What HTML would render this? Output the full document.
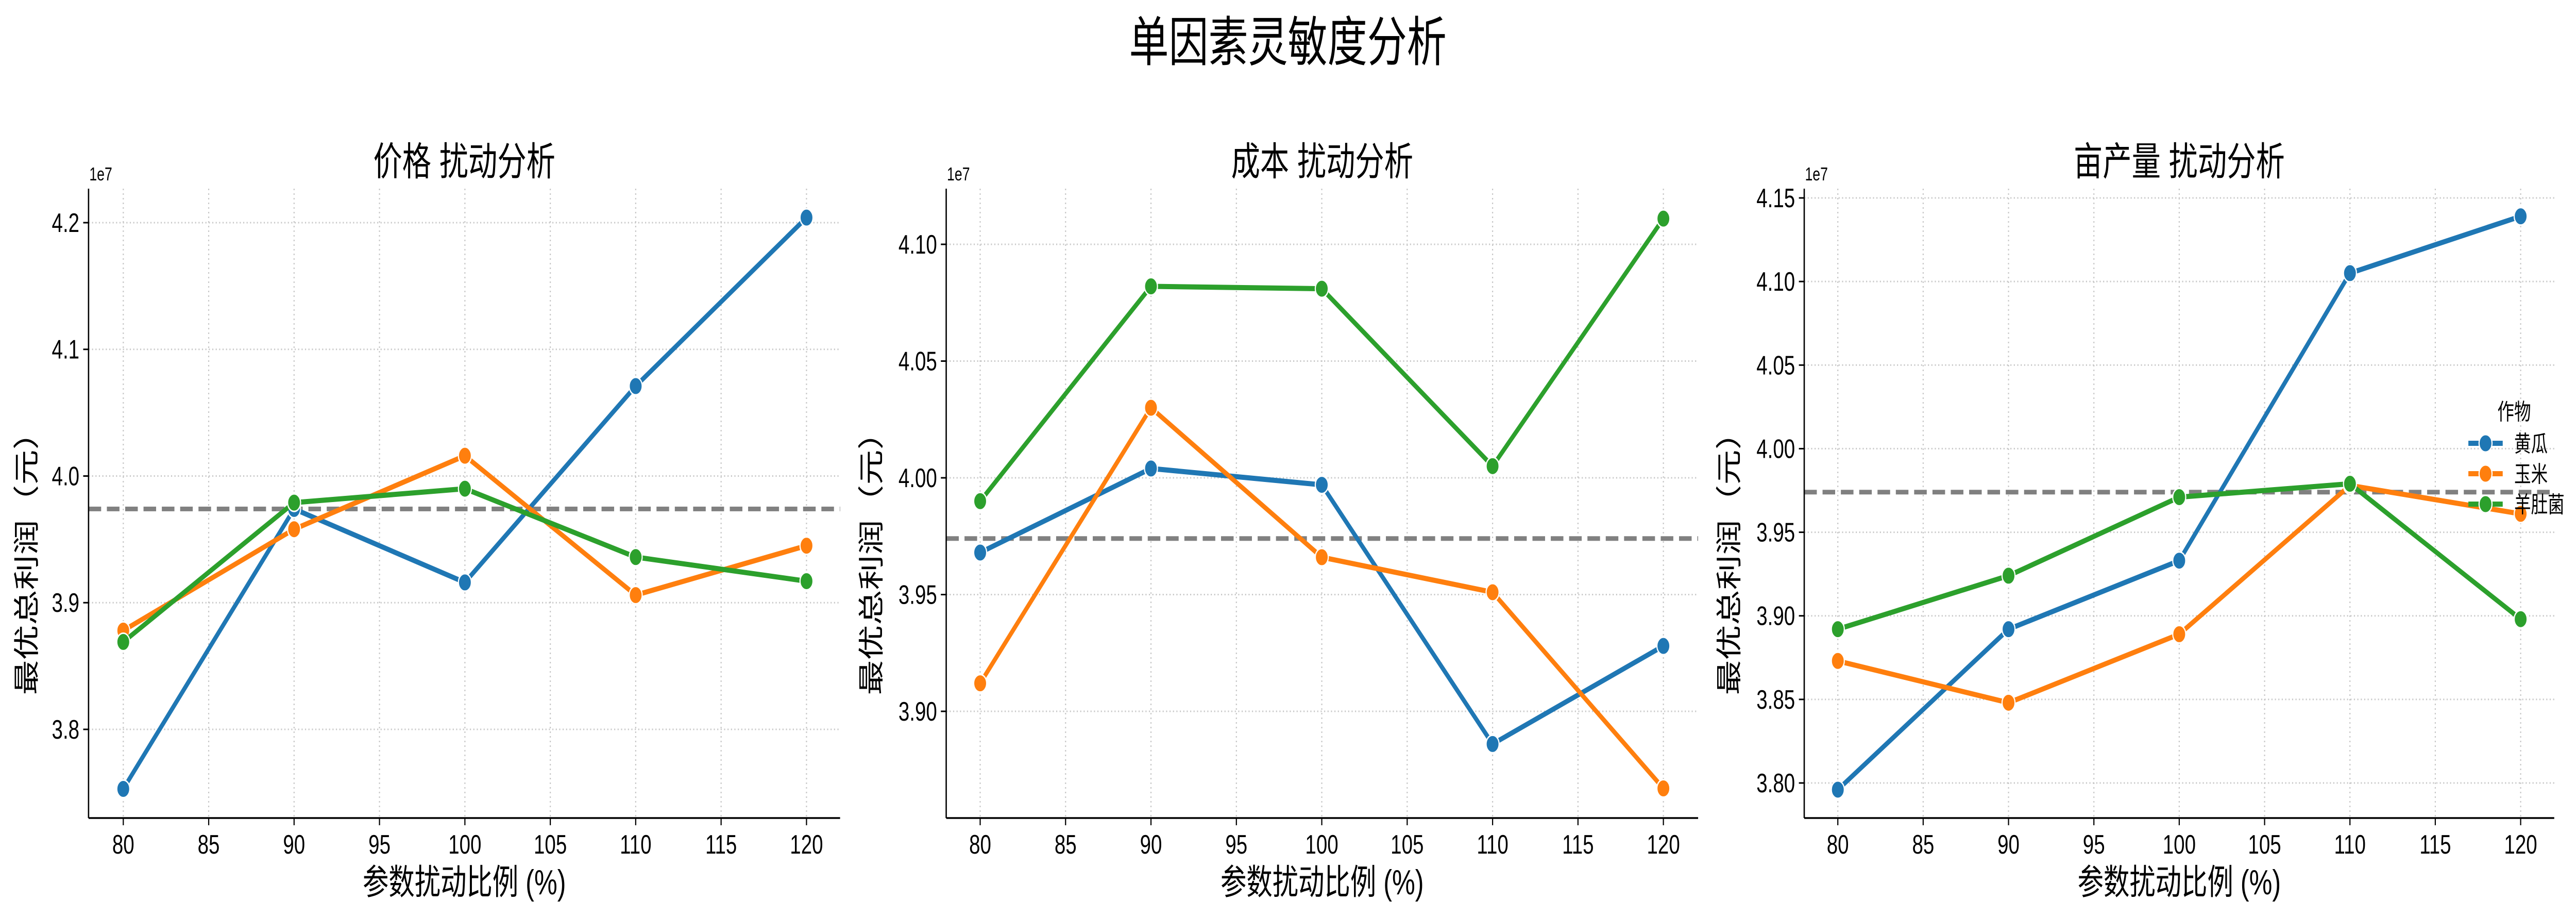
<!DOCTYPE html>
<html><head><meta charset="utf-8"><meta name="viewport" content="width=6749"><style>
html,body{margin:0;padding:0;background:#fff;width:100%;height:100%;overflow:hidden;}
svg{display:block;width:100vw;height:100vh;font-family:"Liberation Sans","Noto Sans CJK SC",sans-serif;}
</style></head><body>
<svg id="fig" viewBox="0 0 6749 1779" preserveAspectRatio="none" xmlns="http://www.w3.org/2000/svg">
<rect width="6749" height="1779" fill="#fff"/>
<text x="3374" y="118" font-size="104" text-anchor="middle" fill="#000">单因素灵敏度分析</text>
</svg>
<script>
const xCats = [80, 90, 100, 110, 120];
const xTicks = [80, 85, 90, 95, 100, 105, 110, 115, 120];
const crops = ["黄瓜", "玉米", "羊肚菌"];
const colors = ["#1f77b4", "#ff7f0e", "#2ca02c"];
const titles = ["价格 扰动分析", "成本 扰动分析", "亩产量 扰动分析"];
const baseline = 39.74;
// values in units of 1e6 (axis shows 1e7)
const priceCucumber = [37.53, 39.74, 39.16, 40.71, 42.04];
const priceCorn = [38.78, 39.58, 40.16, 39.06, 39.45];
const priceMorel = [38.69, 39.79, 39.90, 39.36, 39.17];
const costCucumber = [39.68, 40.04, 39.97, 38.86, 39.28];
const costCorn = [39.12, 40.30, 39.66, 39.51, 38.67];
const costMorel = [39.90, 40.82, 40.81, 40.05, 41.11];
const yieldCucumber = [37.96, 38.92, 39.33, 41.05, 41.39];
const yieldCorn = [38.73, 38.48, 38.89, 39.78, 39.61];
const yieldMorel = [38.92, 39.24, 39.71, 39.79, 38.98];
const yTicks1 = [3.8, 3.9, 4.0, 4.1, 4.2];
const yTickLabels1 = ["3.8", "3.9", "4.0", "4.1", "4.2"];
const yTicks2 = [3.90, 3.95, 4.00, 4.05, 4.10];
const yTickLabels2 = ["3.90", "3.95", "4.00", "4.05", "4.10"];
const yTicks3 = [3.80, 3.85, 3.90, 3.95, 4.00, 4.05, 4.10, 4.15];
const yTickLabels3 = ["3.80", "3.85", "3.90", "3.95", "4.00", "4.05", "4.10", "4.15"];
const series = [[priceCucumber, priceCorn, priceMorel],[costCucumber, costCorn, costMorel],[yieldCucumber, yieldCorn, yieldMorel]];
const yTickSets = [yTicks1, yTicks2, yTicks3];
const yLabelSets = [yTickLabels1, yTickLabels2, yTickLabels3];

const NS = "http://www.w3.org/2000/svg";
const svg = document.getElementById('fig');
function mk(tag, attrs, parent){const e=document.createElementNS(NS,tag);for(const k in attrs)e.setAttribute(k,attrs[k]);(parent||svg).appendChild(e);return e;}

const panels = [
 {L:232,R:2201,T:366,B:1587,x0:323,x1:2113,v0:4.2,p0:432,v1:3.8,p1:1415,ylx:70,e7:234},
 {L:2479,R:4449,T:366,B:1587,x0:2568,x1:4358,v0:4.10,p0:474,v1:3.90,p1:1380,ylx:2283,e7:2481},
 {L:4727,R:6692,T:366,B:1587,x0:4815,x1:6604,v0:4.15,p0:384,v1:3.80,p1:1519,ylx:4530,e7:4729}
];

panels.forEach((P,pi)=>{
  const g = mk('g',{});
  
  
  const xs = v => P.x0 + (v-80)/40*(P.x1-P.x0);
  const ys = v => P.p0 + (v-P.v0)/(P.v1-P.v0)*(P.p1-P.p0);
  xTicks.forEach(t=>{
    const l=mk('line',{x1:xs(t),x2:xs(t),y1:P.T,y2:P.B,stroke:'#c8c8c8','stroke-width':3,'stroke-dasharray':'3 6'},g);
    
    
  });
  yTickSets[pi].forEach(t=>{
    const l=mk('line',{x1:P.L,x2:P.R,y1:ys(t),y2:ys(t),stroke:'#c8c8c8','stroke-width':3,'stroke-dasharray':'3 6'},g);
    
    
  });
  const bl=mk('line',{x1:P.L,x2:P.R,y1:ys(baseline/10),y2:ys(baseline/10),stroke:'#808080','stroke-width':9,'stroke-dasharray':'33 15'},g);
  
  
  series[pi].forEach((vals,si)=>{
    const pts = vals.map((v,i)=>xs(xCats[i])+','+ys(v/10)).join(' ');
    const pl=mk('polyline',{points:pts,fill:'none',stroke:colors[si],'stroke-width':10,'stroke-linejoin':'round'},g);
    
    
    vals.forEach((v,i)=>{
      const c=mk('circle',{cx:xs(xCats[i]),cy:ys(v/10),r:17,fill:colors[si],stroke:'#fff','stroke-width':3},g);
      
      
    });
  });
  const sl=mk('line',{x1:P.L,x2:P.L,y1:P.T,y2:P.B,stroke:'#000','stroke-width':3.5},g);
  
  
  const sb=mk('line',{x1:P.L,x2:P.R,y1:P.B,y2:P.B,stroke:'#000','stroke-width':3.5},g);
  
  
  xTicks.forEach(t=>{
    mk('line',{x1:xs(t),x2:xs(t),y1:P.B,y2:P.B+14,stroke:'#000','stroke-width':3},g);
    const tx=mk('text',{x:xs(t),y:1656,'font-size':52,'text-anchor':'middle',fill:'#000'},g);
    tx.textContent=t;
    
    
  });
  yTickSets[pi].forEach((t,i)=>{
    mk('line',{x1:P.L-14,x2:P.L,y1:ys(t),y2:ys(t),stroke:'#000','stroke-width':3},g);
    const tx=mk('text',{x:P.L-24,y:ys(t)+18,'font-size':52,'text-anchor':'end',fill:'#000'},g);
    tx.textContent=yLabelSets[pi][i];
    
    
  });
  const e=mk('text',{x:P.e7,y:350,'font-size':36,fill:'#000'},g);
  e.textContent='1e7';
  
  
  const tt=mk('text',{x:(P.L+P.R)/2,y:340,'font-size':76,'text-anchor':'middle',fill:'#000'},g);
  tt.textContent=titles[pi];
  
  
  const xl=mk('text',{x:(P.L+P.R)/2,y:1735,'font-size':68,'text-anchor':'middle',fill:'#000'},g);
  xl.textContent='参数扰动比例 (%)';
  
  
  const cy=(P.T+P.B)/2+100;
  const yl=mk('text',{x:P.ylx,y:cy,'font-size':68,'text-anchor':'middle',transform:'rotate(-90 '+P.ylx+' '+cy+')',fill:'#000'},g);
  yl.setAttribute('dy','24');
  yl.textContent='最优总利润（元）';
  
  
});

const lg = mk('g',{});


const lt=mk('text',{x:6587,y:814,'font-size':44,'text-anchor':'middle',fill:'#000'},lg);
lt.textContent='作物';


crops.forEach((c,i)=>{
  const y=860+i*59;
  const ln=mk('line',{x1:6467,x2:6557,y1:y,y2:y,stroke:colors[i],'stroke-width':10},lg);
  
  
  mk('circle',{cx:6512,cy:y,r:17,fill:colors[i],stroke:'#fff','stroke-width':3},lg);
  const tx=mk('text',{x:6587,y:y+16,'font-size':44,fill:'#000'},lg);
  tx.textContent=c;
  
  
});
</script>
</body></html>
